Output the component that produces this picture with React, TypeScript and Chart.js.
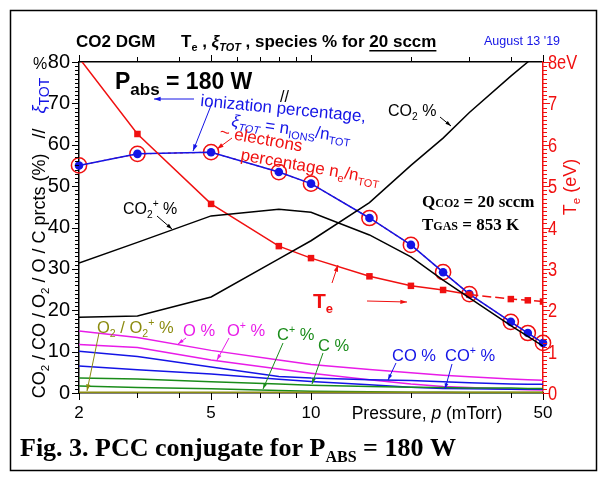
import { useEffect, useRef } from 'react';
import { Chart, registerables } from 'chart.js';

Chart.register(...registerables);

const SANS = '"Liberation Sans", Arial, sans-serif';
const SERIF = '"Liberation Serif", "Times New Roman", serif';

const RED = '#f01010';
const BLUE = '#1414e6';
const MAGENTA = '#e81ce8';
const GREEN = '#1a8c1a';
const OLIVE = '#8c8c10';

// Pressure grid (mTorr)
const pressures = [2, 3, 5, 8, 10, 15, 20, 25, 30, 40, 45, 50];

// Species percentages (%)
const co2Pct = [18.3, 18.6, 23.2, 32.4, 36.8, 46.0, 55.0, 61.6, 67.8, 76.6, 80.0, 83.0];
const co2IonPct = [31.4, 36.4, 42.8, 44.4, 43.7, 38.2, 32.9, 27.3, 23.0, 16.3, 13.7, 11.3];
const oPct = [15.0, 13.4, 10.3, 8.0, 6.9, 5.7, 4.9, 4.3, 3.9, 3.4, 3.2, 3.1];
const oIonPct = [11.7, 11.0, 8.0, 5.8, 4.8, 3.2, 2.2, 1.6, 1.3, 0.9, 0.8, 0.7];
const coPct = [10.1, 8.8, 6.3, 4.0, 3.6, 3.2, 3.0, 2.7, 2.5, 2.2, 2.1, 2.1];
const coIonPct = [6.5, 5.6, 4.6, 3.3, 2.8, 2.0, 1.4, 1.1, 1.0, 0.9, 0.9, 0.9];
const cIonPct = [3.6, 3.4, 2.7, 2.2, 1.9, 1.6, 1.4, 1.3, 1.2, 1.2, 1.1, 1.1];
const cPct = [1.7, 1.3, 1.0, 0.6, 0.4, 0.3, 0.2, 0.2, 0.1, 0.1, 0.1, 0.1];
const o2Pct = [0.2, 0.2, 0.2, 0.2, 0.2, 0.2, 0.2, 0.2, 0.2, 0.2, 0.2, 0.2];

// Ionization percentage xi_TOT (%) == electron percentage n_e/n_TOT
const ionizationPct = [55.0, 57.8, 58.2, 53.4, 50.6, 42.3, 35.8, 29.2, 23.9, 17.2, 14.5, 12.1];

// Electron temperature (eV)
const electronTemp = [8.1, 6.26, 4.57, 3.55, 3.26, 2.82, 2.59, 2.49, 2.38, 2.27, 2.24, 2.21];

// Axis ticks
const pressureTicks = [2, 3, 4, 5, 6, 7, 8, 9, 10, 20, 30, 40, 50];
const pressureLabels = [2, 5, 10, 50];
const pctMax = 80;
const pctLabelStep = 10;
const teMax = 8;

type Run = { t: string; k?: 'sub' | 'sup' | 'sc'; i?: boolean; u?: boolean; c?: string; s?: number };
type RunOpts = { size: number; family: string; bold?: boolean; color: string; rot?: number; align?: 'left' | 'center' };

function drawRuns(ctx: CanvasRenderingContext2D, runs: Run[], x: number, y: number, o: RunOpts) {
  const font = (r: Run) => {
    const s = r.s ?? (r.k ? o.size * 0.64 : o.size);
    return `${r.i ? 'italic ' : ''}${o.bold ? 'bold ' : ''}${s}px ${o.family}`;
  };
  let total = 0;
  for (const r of runs) {
    ctx.font = font(r);
    total += ctx.measureText(r.t).width;
  }
  ctx.save();
  ctx.translate(x, y);
  if (o.rot) ctx.rotate((o.rot * Math.PI) / 180);
  ctx.textAlign = 'left';
  ctx.textBaseline = 'alphabetic';
  let cx = o.align === 'center' ? -total / 2 : 0;
  for (const r of runs) {
    ctx.font = font(r);
    const dy = r.k === 'sub' ? o.size * 0.24 : r.k === 'sup' ? -o.size * 0.42 : 0;
    ctx.fillStyle = r.c || o.color;
    ctx.fillText(r.t, cx, dy);
    const w = ctx.measureText(r.t).width;
    if (r.u) ctx.fillRect(cx, dy + 3, w, 1.5);
    cx += w;
  }
  ctx.restore();
}

function arrow(ctx: CanvasRenderingContext2D, x1: number, y1: number, x2: number, y2: number, color: string, head = 7) {
  ctx.save();
  ctx.strokeStyle = color;
  ctx.fillStyle = color;
  ctx.lineWidth = 1;
  ctx.beginPath();
  ctx.moveTo(x1, y1);
  ctx.lineTo(x2, y2);
  ctx.stroke();
  const a = Math.atan2(y2 - y1, x2 - x1);
  ctx.beginPath();
  ctx.moveTo(x2, y2);
  ctx.lineTo(x2 - head * Math.cos(a - 0.32), y2 - head * Math.sin(a - 0.32));
  ctx.lineTo(x2 - head * Math.cos(a + 0.32), y2 - head * Math.sin(a + 0.32));
  ctx.closePath();
  ctx.fill();
  ctx.restore();
}

const decorations = {
  id: 'decorations',
  beforeDraw(chart: Chart) {
    const ctx = chart.ctx;
    ctx.save();
    ctx.fillStyle = '#fff';
    ctx.fillRect(0, 0, chart.width, chart.height);
    ctx.restore();
  },
  afterDraw(chart: Chart) {
    const ctx = chart.ctx;
    const { x, x2, y, y2 } = chart.scales as any;
    ctx.save();

    // tick marks
    ctx.lineWidth = 1;
    ctx.strokeStyle = '#000';
    for (const t of y.ticks) {
      const py = Math.round(y.getPixelForValue(t.value)) + 0.5;
      const len = t.value % pctLabelStep === 0 ? 7 : 4;
      ctx.beginPath();
      ctx.moveTo(y.right - len, py);
      ctx.lineTo(y.right, py);
      ctx.stroke();
    }
    for (const sc of [x, x2]) {
      for (const t of sc.ticks) {
        const px = Math.round(sc.getPixelForValue(t.value)) + 0.5;
        const len = pressureLabels.includes(t.value) ? 7 : 5;
        ctx.beginPath();
        if (sc === x) {
          ctx.moveTo(px, x.top);
          ctx.lineTo(px, x.top + len);
        } else {
          ctx.moveTo(px, x2.bottom - len);
          ctx.lineTo(px, x2.bottom);
        }
        ctx.stroke();
      }
    }
    // Te axis: tick marks plus narrow red labels
    ctx.strokeStyle = RED;
    ctx.fillStyle = RED;
    for (const t of y2.ticks) {
      const py = Math.round(y2.getPixelForValue(t.value)) + 0.5;
      const n = Math.round(t.value * 10);
      const major = n % 10 === 0;
      const len = major ? 7 : 4;
      ctx.beginPath();
      ctx.moveTo(y2.left, py);
      ctx.lineTo(y2.left + len, py);
      ctx.stroke();
      if (major) {
        const label = n === teMax * 10 ? `${teMax}eV` : String(n / 10);
        ctx.save();
        ctx.translate(y2.left + 5, py);
        ctx.scale(0.82, 1);
        ctx.font = `20px ${SANS}`;
        ctx.textAlign = 'left';
        ctx.textBaseline = 'middle';
        ctx.fillText(label, 0, 1);
        ctx.restore();
      }
    }

    // frame
    ctx.strokeStyle = '#000';
    ctx.lineWidth = 1.5;
    ctx.strokeRect(10.5, 10.5, 586, 460);

    // heading
    drawRuns(ctx, [{ t: 'CO2 DGM' }], 76, 47, { size: 17, family: SANS, bold: true, color: '#000' });
    drawRuns(
      ctx,
      [
        { t: 'T' },
        { t: 'e', k: 'sub' },
        { t: ' , ' },
        { t: 'ξ', i: true },
        { t: 'TOT', k: 'sub', i: true },
        { t: ' , species % for ' },
        { t: '20 sccm', u: true },
      ],
      181,
      47,
      { size: 17, family: SANS, bold: true, color: '#000' }
    );
    drawRuns(ctx, [{ t: "August 13 '19" }], 484, 45, { size: 12.5, family: SANS, color: BLUE });

    // axis titles
    drawRuns(ctx, [{ t: '%' }], 33, 69, { size: 16, family: SANS, color: '#000' });
    drawRuns(
      ctx,
      [
        { t: 'CO' },
        { t: '2', k: 'sub' },
        { t: ' / CO / O' },
        { t: '2', k: 'sub' },
        { t: ' / O / C prcts (%)   //   ' },
        { t: 'ξ', i: true, c: BLUE },
        { t: 'TOT', k: 'sub', c: BLUE, s: 14 },
      ],
      45,
      238,
      { size: 18, family: SANS, color: '#000', rot: -90, align: 'center' }
    );
    drawRuns(ctx, [{ t: 'T' }, { t: 'e', k: 'sub' }, { t: ' (eV)' }], 576, 187, {
      size: 18,
      family: SANS,
      color: RED,
      rot: -90,
      align: 'center',
    });
    drawRuns(ctx, [{ t: 'Pressure, ' }, { t: 'p', i: true }, { t: ' (mTorr)' }], 427, 419, {
      size: 17.5,
      family: SANS,
      color: '#000',
      align: 'center',
    });

    // caption
    drawRuns(ctx, [{ t: 'Fig. 3. PCC conjugate for P' }, { t: 'ABS', k: 'sub', s: 16 }, { t: ' = 180 W' }], 20, 456, {
      size: 26,
      family: SERIF,
      bold: true,
      color: '#000',
    });

    // in-plot annotations
    drawRuns(ctx, [{ t: 'P' }, { t: 'abs', k: 'sub', s: 17 }, { t: ' = 180 W' }], 115, 89, {
      size: 23,
      family: SANS,
      bold: true,
      color: '#000',
    });
    drawRuns(ctx, [{ t: 'ionization percentage,' }], 200, 106, { size: 17, family: SANS, color: BLUE, rot: 5.5 });
    drawRuns(
      ctx,
      [
        { t: 'ξ', i: true },
        { t: 'TOT', k: 'sub', i: true },
        { t: ' = n' },
        { t: 'IONS', k: 'sub' },
        { t: '/n' },
        { t: 'TOT', k: 'sub' },
      ],
      231,
      126,
      { size: 17, family: SANS, color: BLUE, rot: 8 }
    );
    arrow(ctx, 194, 99, 154, 99, BLUE);
    arrow(ctx, 212, 103, 193, 151, BLUE);
    drawRuns(ctx, [{ t: '~ electrons' }], 219, 137, { size: 17, family: SANS, color: RED, rot: 10 });
    arrow(ctx, 232, 138, 217, 149, RED);
    drawRuns(
      ctx,
      [{ t: 'percentage n' }, { t: 'e', k: 'sub' }, { t: '/n' }, { t: 'TOT', k: 'sub' }],
      240,
      160,
      { size: 17, family: SANS, color: RED, rot: 10 }
    );

    drawRuns(ctx, [{ t: '//' }], 280, 102, { size: 16, family: SANS, color: '#000' });
    drawRuns(ctx, [{ t: 'CO' }, { t: '2', k: 'sub' }, { t: ' %' }], 388, 116, { size: 16, family: SANS, color: '#000' });
    arrow(ctx, 440, 117, 451, 126, '#000', 6);
    drawRuns(ctx, [{ t: 'CO' }, { t: '2', k: 'sub' }, { t: '+', k: 'sup' }, { t: ' %' }], 123, 214, {
      size: 16,
      family: SANS,
      color: '#000',
    });
    arrow(ctx, 157, 216, 172, 229, '#000', 6);

    drawRuns(ctx, [{ t: 'Q' }, { t: 'CO2', k: 'sc', s: 12 }, { t: ' = 20 sccm' }], 422, 207, {
      size: 17,
      family: SERIF,
      bold: true,
      color: '#000',
    });
    drawRuns(ctx, [{ t: 'T' }, { t: 'GAS', k: 'sc', s: 12 }, { t: ' = 853 K' }], 422, 230, {
      size: 17,
      family: SERIF,
      bold: true,
      color: '#000',
    });

    drawRuns(ctx, [{ t: 'T' }, { t: 'e', k: 'sub', s: 13 }], 313, 308, { size: 21, family: SANS, bold: true, color: RED });
    arrow(ctx, 332, 283, 338, 265, RED);
    arrow(ctx, 367, 301, 407, 302, RED);

    drawRuns(
      ctx,
      [{ t: 'O' }, { t: '2', k: 'sub' }, { t: ' / O' }, { t: '2', k: 'sub' }, { t: '+', k: 'sup' }, { t: ' %' }],
      97,
      333,
      { size: 16.5, family: SANS, color: OLIVE }
    );
    arrow(ctx, 99, 333, 87, 391, OLIVE);
    drawRuns(ctx, [{ t: 'O %' }], 183, 336, { size: 16.5, family: SANS, color: MAGENTA });
    arrow(ctx, 186, 338, 178, 344, MAGENTA, 6);
    drawRuns(ctx, [{ t: 'O' }, { t: '+', k: 'sup' }, { t: ' %' }], 227, 336, { size: 16.5, family: SANS, color: MAGENTA });
    arrow(ctx, 229, 338, 217, 360, MAGENTA, 6);
    drawRuns(ctx, [{ t: 'C' }, { t: '+', k: 'sup' }, { t: ' %' }], 277, 340, { size: 16.5, family: SANS, color: GREEN });
    arrow(ctx, 283, 343, 263, 389, GREEN, 6);
    drawRuns(ctx, [{ t: 'C %' }], 318, 351, { size: 16.5, family: SANS, color: GREEN });
    arrow(ctx, 323, 353, 312, 384, GREEN, 6);
    drawRuns(ctx, [{ t: 'CO %' }], 392, 361, { size: 16.5, family: SANS, color: BLUE });
    arrow(ctx, 396, 363, 388, 380, BLUE, 6);
    drawRuns(ctx, [{ t: 'CO' }, { t: '+', k: 'sup' }, { t: ' %' }], 445, 361, { size: 16.5, family: SANS, color: BLUE });
    arrow(ctx, 452, 364, 445, 389, BLUE, 6);

    ctx.restore();
  },
};

export default function App() {
  const ref = useRef<HTMLCanvasElement>(null);

  useEffect(() => {
    const canvas = ref.current;
    if (!canvas) return;
    const pts = (vals: number[]) => pressures.map((p, i) => ({ x: p, y: vals[i] }));
    const species = (label: string, vals: number[], color: string, extra: any = {}) => ({
      label,
      data: pts(vals),
      borderColor: color,
      backgroundColor: color,
      borderWidth: 1.5,
      pointRadius: 0,
      tension: 0,
      xAxisID: 'x',
      yAxisID: 'y',
      ...extra,
    });

    const chart = new Chart(canvas, {
      type: 'line',
      data: {
        datasets: [
          species('O2 / O2+ %', o2Pct, OLIVE, { clip: false }),
          species('C %', cPct, GREEN, { clip: false }),
          species('C+ %', cIonPct, GREEN),
          species('CO+ %', coIonPct, BLUE),
          species('CO %', coPct, BLUE),
          species('O+ %', oIonPct, MAGENTA),
          species('O %', oPct, MAGENTA),
          species('CO2+ %', co2IonPct, '#000'),
          species('CO2 %', co2Pct, '#000'),
          {
            label: 'Te',
            data: pts(electronTemp),
            borderColor: RED,
            backgroundColor: RED,
            borderWidth: 1.5,
            pointStyle: 'rect',
            pointRadius: 4.6,
            pointBorderWidth: 0,
            tension: 0,
            xAxisID: 'x',
            yAxisID: 'y2',
            segment: {
              borderDash: (c: any) => (c.p0DataIndex >= 8 ? [9, 4] : undefined),
            },
          },
          species('ionization percentage', ionizationPct, BLUE, {
            pointRadius: 4.3,
            pointBackgroundColor: BLUE,
            pointBorderWidth: 0,
            clip: false,
          }),
          species('electrons percentage', ionizationPct, RED, {
            borderDash: [3, 3],
            borderWidth: 1.2,
            pointRadius: 7.6,
            pointBackgroundColor: 'rgba(0,0,0,0)',
            pointBorderColor: RED,
            pointBorderWidth: 1.5,
            clip: false,
          }),
        ],
      },
      options: {
        animation: false,
        responsive: false,
        devicePixelRatio: 1,
        layout: { padding: 0 },
        plugins: { legend: { display: false }, tooltip: { enabled: false } },
        scales: {
          x: {
            type: 'logarithmic',
            position: 'bottom',
            min: 2,
            max: 50,
            afterBuildTicks: (s: any) => {
              s.ticks = pressureTicks.map((v) => ({ value: v }));
            },
            afterFit: (s: any) => {
              s.height = 90;
            },
            grid: { display: false, drawTicks: false },
            border: { display: true, color: '#000', width: 1.5 },
            ticks: {
              autoSkip: false,
              maxRotation: 0,
              padding: 10,
              color: '#000',
              font: { family: SANS, size: 17 },
              callback: (v: any) => (pressureLabels.includes(Number(v)) ? String(v) : ''),
            },
          },
          x2: {
            type: 'logarithmic',
            position: 'top',
            min: 2,
            max: 50,
            afterBuildTicks: (s: any) => {
              s.ticks = pressureTicks.map((v) => ({ value: v }));
            },
            afterFit: (s: any) => {
              s.height = 62;
            },
            grid: { display: false, drawTicks: false },
            border: { display: true, color: '#000', width: 1.5 },
            ticks: { display: false },
          },
          y: {
            type: 'linear',
            position: 'left',
            min: 0,
            max: pctMax,
            afterBuildTicks: (s: any) => {
              s.ticks = Array.from({ length: pctMax + 1 }, (_, i) => ({ value: i }));
            },
            afterFit: (s: any) => {
              s.width = 79;
            },
            grid: { display: false, drawTicks: false },
            border: { display: true, color: '#000', width: 1.5 },
            ticks: {
              autoSkip: false,
              padding: 9,
              color: '#000',
              font: { family: SANS, size: 20 },
              callback: (v: any) => (Number(v) % pctLabelStep === 0 ? String(v) : ''),
            },
          },
          y2: {
            type: 'linear',
            position: 'right',
            min: 0,
            max: teMax,
            afterBuildTicks: (s: any) => {
              s.ticks = Array.from({ length: teMax * 10 + 1 }, (_, i) => ({ value: i / 10 }));
            },
            afterFit: (s: any) => {
              s.width = 64;
            },
            grid: { display: false, drawTicks: false },
            border: { display: true, color: RED, width: 1.5 },
            ticks: { display: false },
          },
        },
      },
      plugins: [decorations],
    } as any);

    return () => chart.destroy();
  }, []);

  return (
    <div style={{ position: 'fixed', left: 0, top: 0, width: 607, height: 483, background: '#fff' }}>
      <canvas ref={ref} width={607} height={483} style={{ display: 'block', width: 607, height: 483 }} />
    </div>
  );
}
